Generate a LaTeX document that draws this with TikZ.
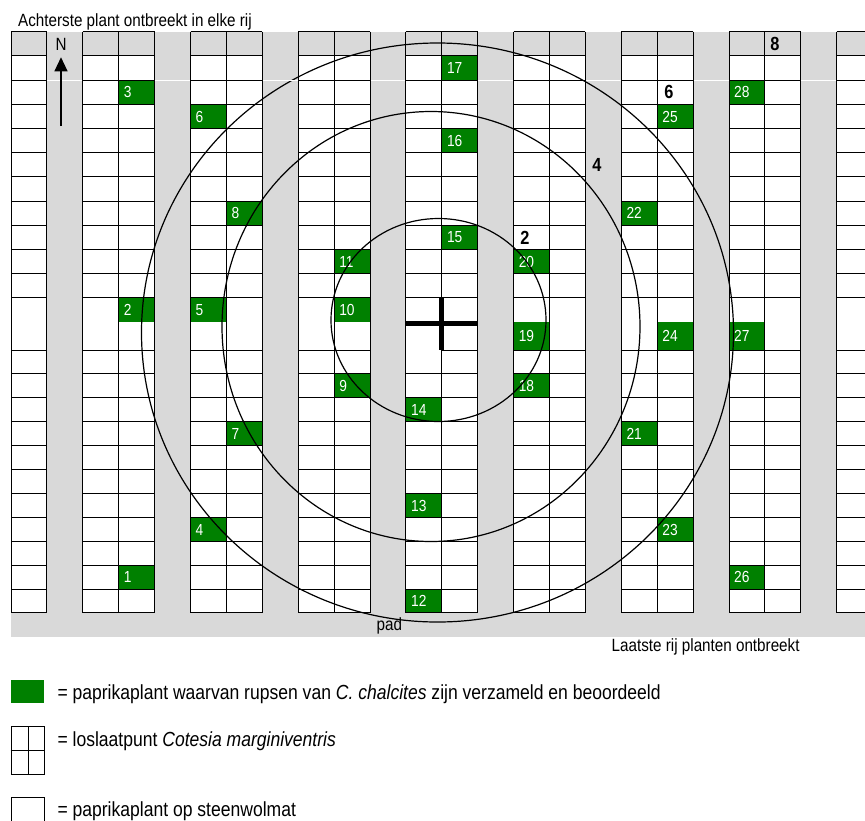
\documentclass[tikz,border=0pt]{standalone}
\usepackage{fontspec}
\setmainfont[FakeStretch=0.86]{Liberation Sans}
\usetikzlibrary{arrows.meta}
\definecolor{plantgreen}{HTML}{008000}
\definecolor{padgrey}{HTML}{D9D9D9}
\newcommand\cellfont{\fontsize{16}{18}\selectfont}
\newcommand\notefont{\fontsize{17.7}{20}\selectfont}
\newcommand\keyfont{\fontsize{20.4}{23}\selectfont}
\newcommand\ringfont{\fontsize{19}{21}\selectfont\bfseries}
\tikzset{
  gridline/.style={line width=0.9pt, black},
  plantcell/.style={rectangle, fill=plantgreen, text=white, anchor=north west,
                    minimum width=35.9pt, inner xsep=5pt, inner ysep=0pt,
                    text width=25.9pt, align=left, font=\cellfont},
  ring/.style={line width=1.2pt, black},
  ringlabel/.style={font=\ringfont, inner sep=0pt},
  note/.style={font=\notefont, inner sep=0pt},
  keybox/.style={rectangle, minimum width=33pt, minimum height=23pt,
                 inner sep=0pt, line width=0.9pt},
  keytext/.style={font=\keyfont, anchor=base west, inner sep=0pt},
  northarrow/.style={-{Triangle[length=14pt,width=13pt]}, line width=1.2pt},
  releasecross/.style={line width=5pt},
}

\begin{document}
\begin{tikzpicture}[x=1pt, y=-1pt]
  \clip (0,0) rectangle (865,820);

  % grey paths between the beds
  \fill[padgrey] (11,31.7) rectangle (865,637);
  \foreach \k/\n in {0/1, 2/2, 5/2, 8/2, 11/2, 14/2, 17/2, 20/2, 23/2}
    \fill[white] ({11+35.9*\k},55.9) rectangle ({11+35.9*(\k+\n)},612.9);

  % sampled plants: column / row / number
  \foreach \k/\r/\n in {12/1/17, 3/2/3, 20/2/28, 5/3/6, 18/3/25, 12/4/16,
      6/7/8, 17/7/22, 12/8/15, 9/9/11, 14/9/20, 3/11/2, 5/11/5, 9/11/10,
      14/12/19, 18/12/24, 20/12/27, 9/14/9, 14/14/18, 11/15/14, 6/16/7,
      17/16/21, 11/19/13, 5/20/4, 18/20/23, 3/22/1, 20/22/26, 11/23/12}{
    \pgfmathsetmacro\yy{\r<13 ? 31.7+24.2*\r : 350+23.9*(\r-13)}
    \pgfmathsetmacro\hh{\r==12 ? 27.9 : 24.1}
    \node[plantcell, minimum height=\hh pt] (p\n) at ({11+35.9*\k},\yy) {\n};
  }

  % distance rings round the release point
  \draw[ring] (438.5,320) ellipse [x radius=107.5pt, y radius=101.5pt];
  \draw[ring] (431,326.5) ellipse [x radius=209pt, y radius=215pt];
  \draw[ring] (437.5,332.5) ellipse [x radius=296pt, y radius=289.5pt];
  \draw[white, line width=1pt] (11,80.1) -- (865,80.1);

  % plant grid
  \foreach \k/\n in {0/1, 2/2, 5/2, 8/2, 11/2, 14/2, 17/2, 20/2, 23/2}{
    \pgfmathsetmacro\xa{11+35.9*\k}
    \pgfmathsetmacro\xb{11+35.9*(\k+\n)}
    \foreach \y in {31.7,55.9,80.1,104.3,128.5,152.7,176.9,201.1,225.3,249.5,
        273.7,297.9,373.9,397.8,421.7,445.6,469.5,493.4,517.3,541.2,565.1,589,612.9}
      \draw[gridline] (\xa,\y) -- (\xb,\y);
    \foreach \c in {0,...,\n}
      \draw[gridline] ({\xa+35.9*\c},31.7) -- ({\xa+35.9*\c},612.9);
  }
  \foreach \k in {0,2,3,5,6,8,9,12,14,15,17,18,20,21,23,24}
    \draw[gridline] ({11+35.9*\k},350) -- ({11+35.9*(\k+1)},350);

  % release point
  \coordinate (release) at (441.8,323);
  \draw[releasecross] (441.8,297.9) -- (441.8,350);
  \draw[releasecross] (405.9,323) -- (477.7,323);

  \node[ringlabel] (ring2) at (525,238) {2};
  \node[ringlabel] (ring4) at (597,165) {4};
  \node[ringlabel] (ring6) at (669,92) {6};
  \node[ringlabel] (ring8) at (775,44) {8};

  % north arrow
  \node[note] (north) at (61,44) {N};
  \coordinate (arrowfoot) at (61,126);
  \draw[northarrow] (arrowfoot) -- ([yshift=-7pt]north.south);

  \node[note, anchor=base west] (backnote) at (18,26.7) {Achterste plant ontbreekt in elke rij};
  \node[note, anchor=base west] (path) at (376.5,630) {pad};
  \node[note, anchor=base west] (lastnote) at (611.5,651.5) {Laatste rij planten ontbreekt};

  % legend
  \node[keybox, fill=plantgreen] (keysampled) at (27.5,691.5) {};
  \node[keytext] (keysampledtext) at (57.3,699.3)
    {= paprikaplant waarvan rupsen van \textit{C. chalcites} zijn verzameld en beoordeeld};
  \node[keybox, draw, minimum height=48pt] (keyrelease) at (27.5,750) {};
  \draw[line width=0.9pt] (28.3,726) -- (28.3,774);
  \draw[line width=0.9pt] (keyrelease.west) -- (keyrelease.east);
  \node[keytext] (keyreleasetext) at (57.3,746.7) {= loslaatpunt \textit{Cotesia marginiventris}};
  \node[keybox, draw, minimum height=26pt] (keyplant) at (27.5,810.3) {};
  \node[keytext] (keyplanttext) at (57.3,816.7) {= paprikaplant op steenwolmat};
\end{tikzpicture}
\end{document}
